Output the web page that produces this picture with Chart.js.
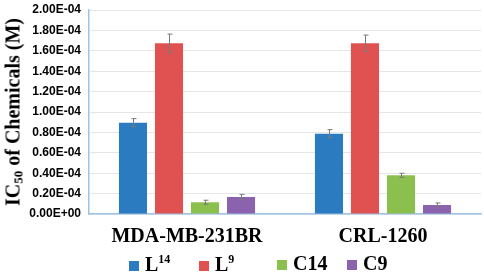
<!DOCTYPE html>
<html>
<head>
<meta charset="utf-8">
<script src="https://cdn.jsdelivr.net/npm/chart.js@4"></script>
<style>
  html, body { margin: 0; padding: 0; background: #fff; }
  #wrap { position: relative; width: 484px; height: 277px; }
  #ytitle {
    position: absolute; left: 14px; top: 112px;
    transform: translate(-50%, -50%) rotate(-90deg);
    font: bold 20px "Liberation Serif", "Times New Roman", serif;
    white-space: nowrap; color: #000;
  }
  #ytitle sub { font-size: 13px; vertical-align: -3px; }
  #legend {
    position: absolute; left: 0; top: 252px; width: 484px; height: 24px;
    font: bold 20px "Liberation Serif", "Times New Roman", serif; color: #000;
  }
  #legend .item { position: absolute; top: 0; display: flex; align-items: center; white-space: nowrap; }
  #legend .sw { width: 10px; height: 10px; margin-right: 6px; margin-top: 3px; }
  #legend sup { font-size: 12px; vertical-align: 8px; }
</style>
</head>
<body>
<div id="wrap">
  <canvas id="chart" width="484" height="277"></canvas>
  <div id="ytitle">IC<sub>50</sub> of Chemicals (M)</div>
  <div id="legend"></div>
</div>
<script>
const categories = ['MDA-MB-231BR', 'CRL-1260'];
const seriesNames = ['L14', 'L9', 'C14', 'C9'];
const legendHtml = ['L<sup>14</sup>', 'L<sup>9</sup>', 'C14', 'C9'];
const colors = ['#2b7bc0', '#e05252', '#8bc04f', '#8b62ad'];
const l14 = [0.895e-4, 0.787e-4];
const l9 = [1.674e-4, 1.674e-4];
const c14 = [0.115e-4, 0.379e-4];
const c9 = [0.167e-4, 0.088e-4];
const l14Err = [0.04e-4, 0.04e-4];
const l9Err = [0.09e-4, 0.08e-4];
const c14Err = [0.02e-4, 0.02e-4];
const c9Err = [0.025e-4, 0.02e-4];
const yTicks = [0, 0.2e-4, 0.4e-4, 0.6e-4, 0.8e-4, 1.0e-4, 1.2e-4, 1.4e-4, 1.6e-4, 1.8e-4, 2.0e-4];

const values = [l14, l9, c14, c9];
const errors = [l14Err, l9Err, c14Err, c9Err];

const errorBars = {
  id: 'errorBars',
  afterDatasetsDraw(chart) {
    const ctx = chart.ctx;
    const y = chart.scales.y;
    ctx.save();
    ctx.strokeStyle = '#7a7a7a';
    ctx.lineWidth = 1;
    chart.data.datasets.forEach((ds, i) => {
      const meta = chart.getDatasetMeta(i);
      meta.data.forEach((bar, j) => {
        const v = ds.data[j], e = errors[i][j];
        const top = y.getPixelForValue(v + e);
        const bot = y.getPixelForValue(v - e);
        const x = Math.round(bar.x) + 0.5;
        ctx.beginPath();
        ctx.moveTo(x, top); ctx.lineTo(x, bot);
        ctx.moveTo(x - 2, top); ctx.lineTo(x + 3, top);
        ctx.moveTo(x - 2, bot); ctx.lineTo(x + 3, bot);
        ctx.stroke();
      });
    });
    ctx.restore();
  }
};

new Chart(document.getElementById('chart'), {
  type: 'bar',
  data: {
    labels: categories,
    datasets: seriesNames.map((name, i) => ({
      label: name,
      data: values[i],
      backgroundColor: colors[i],
      categoryPercentage: 0.735,
      barPercentage: 0.78
    }))
  },
  options: {
    responsive: false,
    animation: false,
    layout: { padding: { left: 29, top: 10, right: 3, bottom: 28 } },
    plugins: { legend: { display: false }, tooltip: { enabled: false } },
    scales: {
      x: {
        grid: { display: false, drawTicks: false },
        border: { color: '#9dc3e6', width: 1.5 },
        ticks: {
          color: '#000', padding: 11,
          font: { family: '"Liberation Serif", "Times New Roman", serif', size: 20, weight: 'bold' }
        },
        afterFit(s) { s.height = 35; }
      },
      y: {
        min: 0, max: 2.0e-4,
        afterBuildTicks(s) { s.ticks = yTicks.map(v => ({ value: v })); },
        grid: { color: '#e6e6e6', drawTicks: false },
        border: { color: '#9dc3e6', width: 1.5 },
        ticks: {
          color: '#000', padding: 8,
          font: { family: '"Liberation Sans", Arial, sans-serif', size: 12, weight: 'bold' },
          callback: v => v === 0 ? '0.00E+00' : (v * 1e4).toFixed(2) + 'E-04'
        },
        afterFit(s) { s.width = 60; s.paddingTop = 0; s.paddingBottom = 0; }
      }
    }
  },
  plugins: [errorBars]
});

const legendLeft = [129, 199, 277, 347];
const legend = document.getElementById('legend');
seriesNames.forEach((name, i) => {
  const item = document.createElement('div');
  item.className = 'item';
  item.style.left = legendLeft[i] + 'px';
  item.innerHTML = '<span class="sw" style="background:' + colors[i] + '"></span><span>' + legendHtml[i] + '</span>';
  legend.appendChild(item);
});
</script>
</body>
</html>
